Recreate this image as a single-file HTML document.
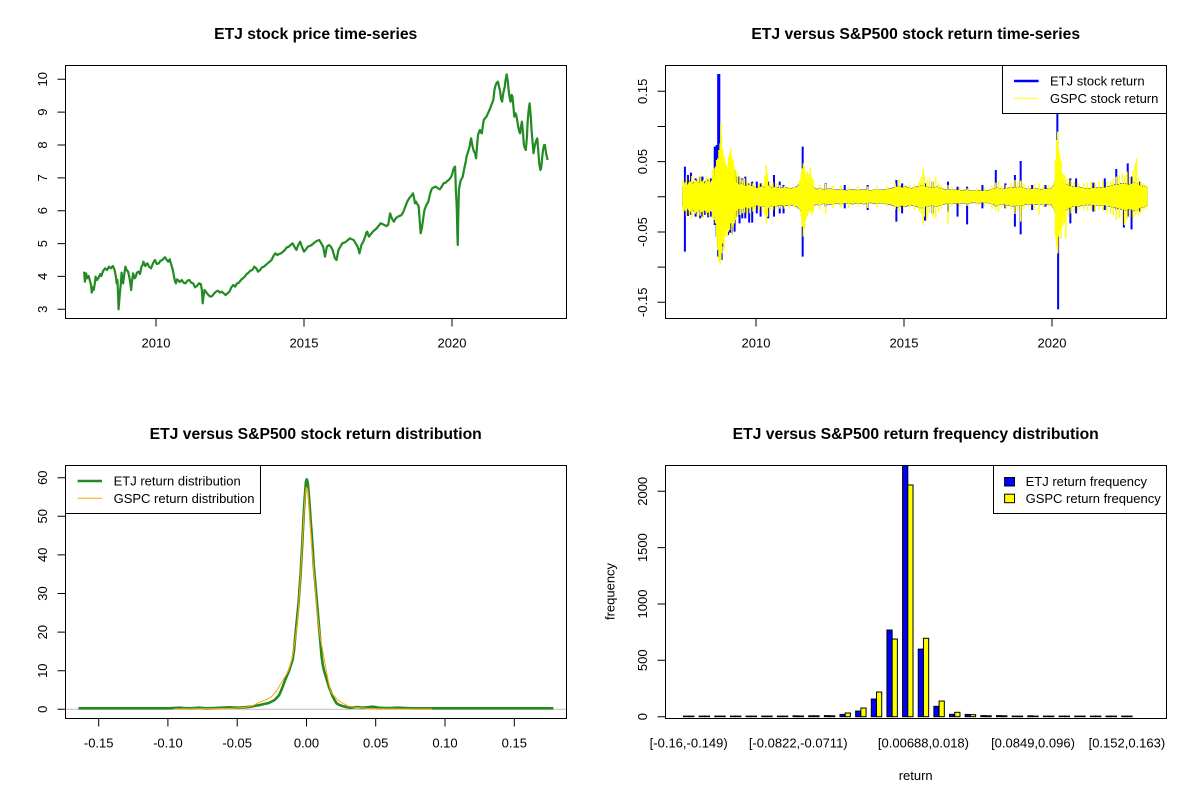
<!DOCTYPE html>
<html><head><meta charset="utf-8"><style>
html,body{margin:0;padding:0;background:#fff;}
svg{display:block;}
text{font-family:"Liberation Sans",Arial,sans-serif;fill:#000;}
.t{font-size:13px;}
.h{font-size:15.7px;font-weight:bold;}
</style></head><body>
<svg width="1200" height="800" viewBox="0 0 1200 800" xmlns="http://www.w3.org/2000/svg">
<rect width="1200" height="800" fill="#fff"/>
<defs>
<polygon id="yb" points="215,415 222,395 228,405 235,392 242,402 250,390 258,400 265,392 272,400 280,390 288,398 295,385 302,380 308,370 314,375 320,378 326,385 332,380 338,388 345,385 352,392 358,398 365,405 372,400 380,408 390,404 400,410 410,414 420,410 430,412 440,406 450,414 460,410 470,416 480,412 495,416 505,414 515,410 522,402 528,395 535,398 542,400 550,404 557,410 565,418 575,414 585,420 600,416 615,420 630,418 645,421 660,418 675,421 690,418 705,422 720,419 740,420 760,416 770,412 780,408 790,413 800,410 810,416 820,414 830,410 840,406 850,410 860,412 870,414 880,410 890,415 900,418 915,420 930,419 945,421 960,420 975,422 990,421 1005,423 1020,420 1030,416 1040,414 1050,418 1060,416 1070,414 1080,412 1090,414 1100,410 1110,416 1120,418 1135,416 1150,418 1165,417 1180,416 1186,405 1192,385 1197,375 1203,385 1210,400 1220,405 1230,408 1240,412 1250,410 1260,414 1275,416 1290,414 1305,412 1320,413 1335,408 1345,405 1355,404 1365,400 1375,402 1385,405 1395,398 1405,402 1415,408 1425,410 1432,414 1432,466 1425,470 1415,472 1405,478 1395,482 1385,476 1375,480 1365,478 1355,474 1345,472 1335,470 1320,466 1305,466 1290,465 1275,464 1260,466 1250,470 1240,468 1230,472 1220,478 1210,485 1203,500 1197,505 1192,495 1186,475 1180,464 1165,463 1150,462 1135,464 1120,462 1110,464 1100,468 1090,466 1080,468 1070,466 1060,464 1050,462 1040,466 1030,464 1020,460 1005,457 990,459 975,458 960,460 945,459 930,461 915,460 900,462 890,465 880,470 870,466 860,468 850,470 840,474 830,470 820,466 810,464 800,470 790,467 780,472 770,468 760,464 740,460 720,461 705,458 690,462 675,459 660,462 645,459 630,462 615,460 600,464 585,460 575,466 565,462 557,470 550,476 542,480 535,482 528,485 522,478 515,470 505,466 495,464 480,468 470,464 460,470 450,466 440,474 430,468 420,470 410,466 400,470 390,476 380,472 372,480 365,475 358,482 352,488 345,495 338,492 332,500 326,495 320,502 314,505 308,508 302,498 295,490 288,482 280,490 272,480 265,488 258,480 250,490 242,478 235,488 228,475 222,485 215,465"/>
</defs>

<!-- ============ Panel 1: price ============ -->
<g transform="translate(0,50) scale(0.38241,0.33333)">
<polyline fill="none" stroke="#228B22" stroke-width="2.2" vector-effect="non-scaling-stroke" stroke-linejoin="round" points="220,665 222,695 225,670 228,685 232,678 235,692 238,705 240,728 243,712 245,720 248,700 250,680 254,690 258,683 262,672 265,678 270,662 275,655 280,660 285,650 290,655 295,648 298,655 300,662 303,680 305,700 307,690 309,740 310,778 312,750 313,735 316,700 318,668 320,690 322,700 325,672 328,650 331,660 335,665 338,680 341,700 343,720 345,695 348,670 352,685 355,680 358,668 362,665 366,672 370,650 373,645 375,635 380,648 385,640 390,650 395,655 400,640 405,630 410,642 415,640 420,632 425,630 428,625 432,622 436,630 440,635 444,628 448,645 452,660 455,680 458,695 460,700 463,688 465,690 470,696 475,690 480,698 485,700 490,692 495,690 500,698 505,700 510,712 515,708 520,700 525,702 528,720 530,760 532,740 535,720 540,728 545,735 550,740 555,738 560,730 565,725 570,722 575,728 580,725 585,730 590,735 595,730 600,725 605,712 610,705 615,710 620,700 625,698 630,690 635,685 640,680 645,672 650,668 655,662 660,660 665,650 670,655 675,665 680,660 685,652 690,650 695,645 700,640 705,635 710,630 715,618 720,610 725,615 730,612 735,610 740,605 745,600 750,592 755,590 760,585 765,580 770,590 775,600 780,585 785,575 790,592 795,605 800,598 805,590 810,588 815,585 820,580 825,575 830,572 835,570 840,580 845,590 848,608 850,620 853,600 855,590 860,585 865,590 870,600 872,610 876,625 880,630 883,612 885,600 890,590 895,580 900,578 905,575 910,570 915,565 920,568 925,570 930,580 935,590 938,600 940,610 943,595 945,585 950,575 955,560 958,548 960,545 963,555 965,560 970,552 975,545 980,540 985,535 990,528 995,520 1000,522 1005,525 1010,528 1015,525 1018,505 1020,490 1023,500 1027,510 1030,515 1035,505 1040,500 1045,498 1050,495 1055,485 1060,470 1065,455 1070,445 1075,438 1080,430 1083,445 1085,460 1088,455 1090,460 1093,465 1095,470 1098,520 1100,550 1103,535 1105,520 1108,495 1110,480 1115,465 1120,455 1123,440 1125,430 1128,420 1130,415 1135,412 1140,410 1145,415 1150,418 1155,410 1160,400 1165,398 1170,393 1175,388 1180,380 1183,370 1185,360 1188,352 1190,350 1191,380 1192,420 1194,460 1195,500 1196,550 1197,585 1198,520 1200,420 1203,400 1205,390 1208,385 1210,380 1213,362 1215,350 1218,335 1220,320 1224,305 1228,290 1230,275 1232,265 1235,285 1238,300 1242,310 1245,325 1248,280 1250,255 1253,245 1255,240 1258,248 1260,250 1263,225 1265,210 1268,205 1272,200 1276,190 1280,180 1285,165 1290,150 1293,120 1295,110 1298,100 1302,95 1305,110 1308,125 1310,145 1313,155 1316,130 1320,110 1322,90 1325,73 1328,95 1330,120 1333,145 1335,155 1338,135 1340,140 1343,175 1345,200 1348,190 1350,195 1353,215 1355,230 1358,245 1360,250 1363,225 1365,215 1368,255 1370,285 1373,295 1375,300 1378,260 1380,210 1383,175 1385,160 1388,200 1390,240 1393,280 1395,310 1398,290 1400,280 1403,270 1405,265 1408,310 1410,340 1413,360 1415,355 1418,320 1420,300 1423,285 1425,285 1428,310 1430,320 1432,330"/>
</g>
<rect x="65.5" y="65.5" width="501" height="253" fill="none" stroke="#000" stroke-width="1"/>
<path d="M57.5 309.3H65.5M57.5 276.4H65.5M57.5 243.6H65.5M57.5 210.7H65.5M57.5 177.9H65.5M57.5 145H65.5M57.5 112.1H65.5M57.5 79.3H65.5 M156 318.5V326.5M304 318.5V326.5M452 318.5V326.5" stroke="#000" stroke-width="1" fill="none"/>
<g class="t" text-anchor="middle">
<text transform="translate(47,309.3) rotate(-90)">3</text>
<text transform="translate(47,276.4) rotate(-90)">4</text>
<text transform="translate(47,243.6) rotate(-90)">5</text>
<text transform="translate(47,210.7) rotate(-90)">6</text>
<text transform="translate(47,177.9) rotate(-90)">7</text>
<text transform="translate(47,145) rotate(-90)">8</text>
<text transform="translate(47,112.1) rotate(-90)">9</text>
<text transform="translate(47,79.3) rotate(-90)">10</text>
<text x="156" y="347.5">2010</text>
<text x="304" y="347.5">2015</text>
<text x="452" y="347.5">2020</text>
</g>
<text class="h" x="315.7" y="39" text-anchor="middle">ETJ stock price time-series</text>

<!-- ============ Panel 2: returns ============ -->
<g transform="translate(600,50) scale(0.38241,0.33333)">
<use href="#yb" fill="#0000FF" transform="translate(0,439) scale(1,1.05) translate(0,-439)"/>
<path fill="none" stroke="#0000FF" stroke-width="2" vector-effect="non-scaling-stroke" d="M222 350V605 M230 375V498 M238 368V495 M250 385V500 M262 380V505 M268 380V500 M275 395V495 M283 395V502 M290 385V500 M300 290V525 M305 285V560 M309 72V620 M312 72V440 M318 330V630 M322 340V590 M335 355V555 M340 330V548 M345 340V550 M352 360V545 M360 380V500 M365 380V520 M372 385V505 M380 380V505 M390 400V518 M398 395V518 M410 395V490 M420 400V500 M440 395V505 M455 375V500 M470 395V490 M480 405V490 M530 290V620 M590 400V470 M640 405V475 M700 405V480 M775 390V515 M790 400V490 M850 400V512 M870 395V490 M910 395V485 M935 410V500 M960 410V523 M1000 405V475 M1035 360V470 M1060 400V475 M1085 375V530 M1100 333V553 M1130 405V480 M1165 405V470 M1196 180V560 M1198 420V778 M1230 385V520 M1245 385V490 M1290 398V485 M1320 385V480 M1350 357V480 M1370 400V533 M1380 340V500 M1390 380V538 M1410 395V485"/>
<use href="#yb" fill="#FFFF00"/>
<path fill="none" stroke="#FFFF00" stroke-width="1.4" vector-effect="non-scaling-stroke" d="M218 390V485 M226 380V500 M234 395V495 M240 378V505 M248 390V492 M256 382V500 M262 376V497 M270 390V505 M278 380V495 M286 385V500 M294 360V505 M298 355V510 M302 350V520 M305 330V560 M308 325V600 M311 300V635 M314 280V640 M316 220V630 M318 260V610 M321 300V580 M324 320V600 M327 335V560 M330 345V540 M333 350V560 M336 320V545 M339 310V540 M342 295V520 M345 320V555 M348 330V530 M351 350V520 M355 360V510 M360 370V500 M366 380V495 M372 388V490 M378 385V488 M385 395V495 M392 398V490 M400 400V485 M406 405V480 M416 400V480 M424 398V485 M431 378V495 M435 345V520 M438 370V500 M444 395V485 M452 398V480 M460 400V478 M470 405V476 M482 408V476 M495 408V475 M508 410V472 M522 390V480 M526 370V500 M529 355V530 M532 340V560 M535 350V535 M538 375V510 M542 365V500 M546 370V490 M550 352V485 M554 380V495 M558 390V485 M575 405V478 M590 402V492 M610 406V475 M630 408V472 M650 410V475 M675 408V470 M700 410V474 M725 408V472 M750 410V470 M772 400V478 M782 388V485 M795 402V475 M810 405V472 M822 402V480 M835 395V485 M840 380V490 M845 355V525 M848 375V500 M855 392V508 M862 385V490 M870 395V500 M878 380V505 M885 400V485 M893 405V478 M910 405V520 M920 410V470 M940 412V470 M960 415V468 M985 415V466 M1005 412V468 M1025 405V478 M1035 398V480 M1042 392V485 M1050 408V470 M1062 405V475 M1075 398V478 M1085 390V492 M1093 395V485 M1100 392V515 M1108 400V478 M1120 405V472 M1135 402V480 M1148 400V495 M1160 405V472 M1175 405V470 M1188 395V480 M1191 330V560 M1194 270V590 M1197 245V610 M1200 300V560 M1203 320V540 M1206 335V565 M1210 370V530 M1214 375V520 M1218 385V565 M1224 385V500 M1232 390V490 M1240 395V485 M1250 398V480 M1265 400V478 M1275 398V482 M1285 395V480 M1295 400V485 M1305 395V478 M1315 392V482 M1325 395V488 M1335 395V490 M1342 385V495 M1350 380V510 M1358 375V505 M1366 370V520 M1372 375V525 M1378 365V510 M1386 380V500 M1394 360V505 M1400 340V495 M1403 325V490 M1408 385V500 M1415 395V488 M1422 400V480 M1428 405V476"/>
</g>
<rect x="665.5" y="65.5" width="501" height="253" fill="none" stroke="#000" stroke-width="1"/>
<path d="M657.5 91.3H665.5M657.5 126.5H665.5M657.5 161.6H665.5M657.5 196.8H665.5M657.5 232H665.5M657.5 267.1H665.5M657.5 302.3H665.5 M756 318.5V326.5M904 318.5V326.5M1052 318.5V326.5" stroke="#000" stroke-width="1" fill="none"/>
<g class="t" text-anchor="middle">
<text transform="translate(647,91.3) rotate(-90)">0.15</text>
<text transform="translate(647,161.6) rotate(-90)">0.05</text>
<text transform="translate(647,232) rotate(-90)">-0.05</text>
<text transform="translate(647,302.3) rotate(-90)">-0.15</text>
<text x="756" y="347.5">2010</text>
<text x="904" y="347.5">2015</text>
<text x="1052" y="347.5">2020</text>
</g>
<rect x="1002.5" y="65.5" width="164" height="48" fill="#fff" stroke="#000" stroke-width="1"/>
<line x1="1014" y1="81" x2="1038.6" y2="81" stroke="#0000FF" stroke-width="2.6"/>
<line x1="1014" y1="98.3" x2="1038.6" y2="98.3" stroke="#FFFF00" stroke-width="1"/>
<text class="t" x="1050" y="85.7">ETJ stock return</text>
<text class="t" x="1050" y="103">GSPC stock return</text>
<text class="h" x="915.7" y="39" text-anchor="middle">ETJ versus S&amp;P500 stock return time-series</text>

<!-- ============ Panel 3: density ============ -->
<line x1="65.5" y1="709.3" x2="566.5" y2="709.3" stroke="#BEBEBE" stroke-width="1"/>
<g transform="translate(0,450) scale(0.38241,0.33333)">
<polyline fill="none" stroke="#228B22" stroke-width="2.6" vector-effect="non-scaling-stroke" stroke-linejoin="round" points="205,775 300,775 440,775 470,773 480,774 500,775 520,773 540,775 560,774 580,773 600,772 620,773 640,772 655,770 665,768 680,765 690,762 700,760 710,755 718,750 725,742 730,735 735,722 740,708 745,692 750,678 755,665 760,648 765,630 769,600 772,560 775,525 778,490 781,455 783,420 786,375 788,330 790,290 793,220 795,175 797,140 799,110 800,95 802,88 803,90 805,100 806,110 808,140 810,170 812,205 815,250 818,300 820,340 823,380 826,420 829,460 832,500 835,540 838,580 841,620 845,650 848,665 852,680 856,695 860,710 865,725 870,740 875,750 880,760 888,765 895,768 905,771 915,773 925,772 935,771 948,773 960,772 975,770 990,773 1005,774 1020,774 1040,773 1060,774 1080,775 1200,775 1447,775"/>
<polyline fill="none" stroke="#FFA500" stroke-width="1" vector-effect="non-scaling-stroke" stroke-linejoin="round" points="455,777 520,776 560,776 600,775 620,774 640,772 650,770 660,767 665,765 672,760 680,757 688,752 695,750 703,745 710,740 718,730 725,720 732,705 740,690 748,675 755,660 760,640 765,620 769,590 773,560 777,520 780,480 783,430 786,380 789,310 792,250 795,190 797,150 799,125 801,112 803,114 805,120 807,150 810,200 813,250 816,300 819,340 822,380 825,425 828,470 831,505 835,540 838,565 842,590 846,615 850,640 854,665 858,690 862,710 865,725 870,733 875,740 882,748 890,755 900,762 910,768 925,771 940,773 960,775 980,776 1050,777 1130,777"/>
</g>
<rect x="65.5" y="465.5" width="501" height="253" fill="none" stroke="#000" stroke-width="1"/>
<path d="M57.5 709.3H65.5M57.5 670.7H65.5M57.5 632.1H65.5M57.5 593.5H65.5M57.5 554.9H65.5M57.5 516.3H65.5M57.5 477.7H65.5 M98.7 718.5V726.5M167.9 718.5V726.5M237.2 718.5V726.5M306.5 718.5V726.5M375.7 718.5V726.5M445 718.5V726.5M514.3 718.5V726.5" stroke="#000" stroke-width="1" fill="none"/>
<g class="t" text-anchor="middle">
<text transform="translate(47,709.3) rotate(-90)">0</text>
<text transform="translate(47,670.7) rotate(-90)">10</text>
<text transform="translate(47,632.1) rotate(-90)">20</text>
<text transform="translate(47,593.5) rotate(-90)">30</text>
<text transform="translate(47,554.9) rotate(-90)">40</text>
<text transform="translate(47,516.3) rotate(-90)">50</text>
<text transform="translate(47,477.7) rotate(-90)">60</text>
<text x="98.7" y="747.5">-0.15</text>
<text x="167.9" y="747.5">-0.10</text>
<text x="237.2" y="747.5">-0.05</text>
<text x="306.5" y="747.5">0.00</text>
<text x="375.7" y="747.5">0.05</text>
<text x="445" y="747.5">0.10</text>
<text x="514.3" y="747.5">0.15</text>
</g>
<rect x="65.5" y="465.5" width="195" height="48" fill="#fff" stroke="#000" stroke-width="1"/>
<line x1="77.6" y1="481" x2="102" y2="481" stroke="#228B22" stroke-width="2.6"/>
<line x1="77.6" y1="498.3" x2="102" y2="498.3" stroke="#FFA500" stroke-width="1"/>
<text class="t" x="113.6" y="485.7">ETJ return distribution</text>
<text class="t" x="113.6" y="503">GSPC return distribution</text>
<text class="h" x="315.7" y="439" text-anchor="middle">ETJ versus S&amp;P500 stock return distribution</text>

<!-- ============ Panel 4: bars ============ -->
<g stroke="#000" stroke-width="1">
<g fill="#0000FF">
<rect x="683.48" y="716.1" width="5.22" height="0.6"/>
<rect x="699.13" y="716.1" width="5.22" height="0.6"/>
<rect x="714.78" y="716.1" width="5.22" height="0.6"/>
<rect x="730.43" y="716.1" width="5.22" height="0.6"/>
<rect x="746.08" y="716.1" width="5.22" height="0.6"/>
<rect x="761.73" y="716.1" width="5.22" height="0.6"/>
<rect x="777.38" y="716.1" width="5.22" height="0.6"/>
<rect x="793.03" y="715.8" width="5.22" height="0.9"/>
<rect x="808.68" y="715.8" width="5.22" height="0.9"/>
<rect x="824.33" y="715.6" width="5.22" height="1.1"/>
<rect x="839.98" y="714.45" width="5.22" height="2.25"/>
<rect x="855.63" y="711.06" width="5.22" height="5.64"/>
<rect x="871.28" y="699.01" width="5.22" height="17.69"/>
<rect x="886.93" y="630.03" width="5.22" height="86.67"/>
<rect x="902.58" y="465.5" width="5.22" height="251.2"/>
<rect x="918.23" y="649.1" width="5.22" height="67.6"/>
<rect x="933.88" y="706.33" width="5.22" height="10.37"/>
<rect x="949.53" y="714.33" width="5.22" height="2.37"/>
<rect x="965.18" y="714.45" width="5.22" height="2.25"/>
<rect x="980.83" y="715.6" width="5.22" height="1.1"/>
<rect x="996.48" y="715.6" width="5.22" height="1.1"/>
<rect x="1012.13" y="716.1" width="5.22" height="0.6"/>
<rect x="1027.78" y="715.8" width="5.22" height="0.9"/>
<rect x="1043.43" y="716.1" width="5.22" height="0.6"/>
<rect x="1059.08" y="716.1" width="5.22" height="0.6"/>
<rect x="1074.73" y="716.1" width="5.22" height="0.6"/>
<rect x="1090.38" y="716.1" width="5.22" height="0.6"/>
<rect x="1106.03" y="716.1" width="5.22" height="0.6"/>
<rect x="1121.68" y="716.1" width="5.22" height="0.6"/>
</g>
<g fill="#FFFF00">
<rect x="688.7" y="716.1" width="5.22" height="0.6"/>
<rect x="704.35" y="716.1" width="5.22" height="0.6"/>
<rect x="720" y="716.1" width="5.22" height="0.6"/>
<rect x="735.65" y="716.1" width="5.22" height="0.6"/>
<rect x="751.3" y="716.1" width="5.22" height="0.6"/>
<rect x="766.95" y="716.1" width="5.22" height="0.6"/>
<rect x="782.6" y="716.1" width="5.22" height="0.6"/>
<rect x="798.25" y="716" width="5.22" height="0.7"/>
<rect x="813.9" y="715.8" width="5.22" height="0.9"/>
<rect x="829.55" y="715.8" width="5.22" height="0.9"/>
<rect x="845.2" y="712.98" width="5.22" height="3.72"/>
<rect x="860.85" y="708.02" width="5.22" height="8.68"/>
<rect x="876.5" y="692.02" width="5.22" height="24.68"/>
<rect x="892.15" y="639.05" width="5.22" height="77.65"/>
<rect x="907.8" y="485" width="5.22" height="231.7"/>
<rect x="923.45" y="638.3" width="5.22" height="78.4"/>
<rect x="939.1" y="701.03" width="5.22" height="15.67"/>
<rect x="954.75" y="712.3" width="5.22" height="4.4"/>
<rect x="970.4" y="714.67" width="5.22" height="2.03"/>
<rect x="986.05" y="715.8" width="5.22" height="0.9"/>
<rect x="1001.7" y="715.8" width="5.22" height="0.9"/>
<rect x="1017.35" y="716.1" width="5.22" height="0.6"/>
<rect x="1033" y="716.1" width="5.22" height="0.6"/>
<rect x="1048.65" y="716.1" width="5.22" height="0.6"/>
<rect x="1064.3" y="716.1" width="5.22" height="0.6"/>
<rect x="1079.95" y="716.1" width="5.22" height="0.6"/>
<rect x="1095.6" y="716.1" width="5.22" height="0.6"/>
<rect x="1111.25" y="716.1" width="5.22" height="0.6"/>
<rect x="1126.9" y="716.1" width="5.22" height="0.6"/>
</g>
</g>
<rect x="665.5" y="465.5" width="501" height="253" fill="none" stroke="#000" stroke-width="1"/>
<path d="M657.5 716.7H665.5M657.5 660.3H665.5M657.5 604H665.5M657.5 547.6H665.5M657.5 491.3H665.5" stroke="#000" stroke-width="1" fill="none"/>
<g class="t" text-anchor="middle">
<text transform="translate(647,716.7) rotate(-90)">0</text>
<text transform="translate(647,660.3) rotate(-90)">500</text>
<text transform="translate(647,604) rotate(-90)">1000</text>
<text transform="translate(647,547.6) rotate(-90)">1500</text>
<text transform="translate(647,491.3) rotate(-90)">2000</text>
<text x="688.7" y="747.5">[-0.16,-0.149)</text>
<text x="798.25" y="747.5">[-0.0822,-0.0711)</text>
<text x="923.45" y="747.5">[0.00688,0.018)</text>
<text x="1033" y="747.5">[0.0849,0.096)</text>
<text x="1126.9" y="747.5">[0.152,0.163)</text>
<text x="915.7" y="780">return</text>
<text transform="translate(614.5,591.5) rotate(-90)">frequency</text>
</g>
<rect x="993.5" y="465.5" width="173" height="48" fill="#fff" stroke="#000" stroke-width="1"/>
<rect x="1004.6" y="477.5" width="9.9" height="8.5" fill="#0000FF" stroke="#000" stroke-width="1"/>
<rect x="1004.6" y="494.2" width="9.9" height="8.5" fill="#FFFF00" stroke="#000" stroke-width="1"/>
<text class="t" x="1025.6" y="486">ETJ return frequency</text>
<text class="t" x="1025.6" y="503">GSPC return frequency</text>
<text class="h" x="915.7" y="439" text-anchor="middle">ETJ versus S&amp;P500 return frequency distribution</text>
</svg>
</body></html>
